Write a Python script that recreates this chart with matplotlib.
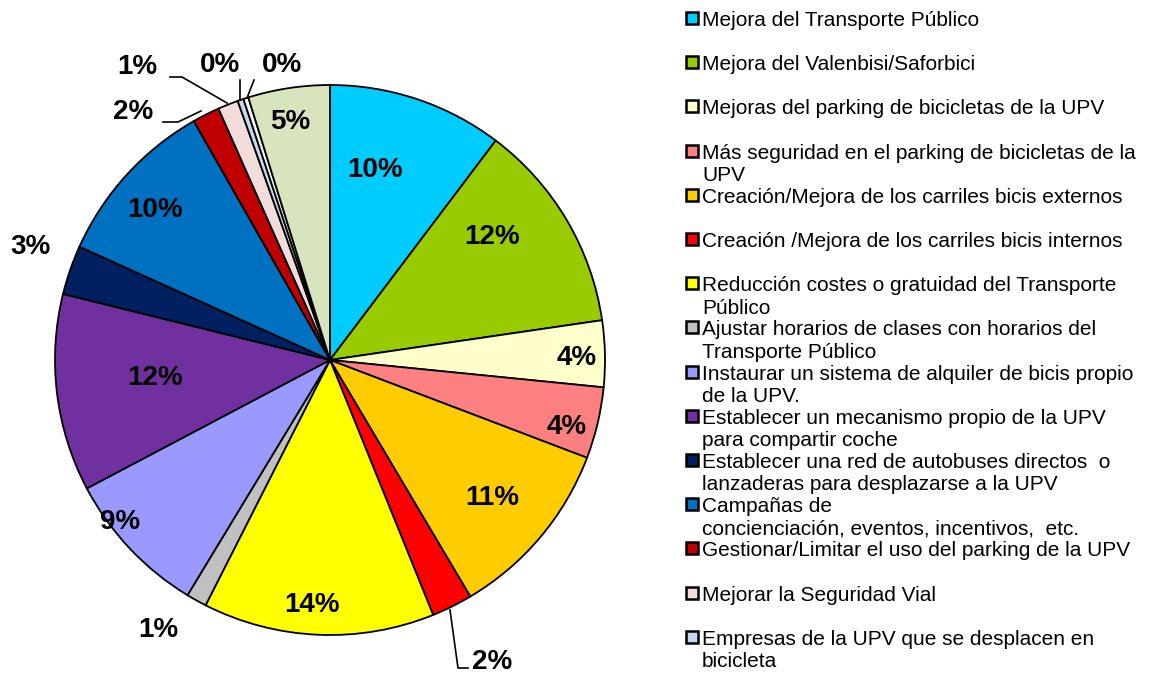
import matplotlib
matplotlib.use("Agg")
import matplotlib.pyplot as plt
from matplotlib.patches import Rectangle

plt.rcParams['font.family'] = ['Liberation Sans', 'DejaVu Sans']

categories = [
    "Mejora del Transporte Público",
    "Mejora del Valenbisi/Saforbici",
    "Mejoras del parking de bicicletas de la UPV",
    "Más seguridad en el parking de bicicletas de la\nUPV",
    "Creación/Mejora de los carriles bicis externos",
    "Creación /Mejora de los carriles bicis internos",
    "Reducción costes o gratuidad del Transporte\nPúblico",
    "Ajustar horarios de clases con horarios del\nTransporte Público",
    "Instaurar un sistema de alquiler de bicis propio\nde la UPV.",
    "Establecer un mecanismo propio de la UPV\npara compartir coche",
    "Establecer una red de autobuses directos  o\nlanzaderas para desplazarse a la UPV",
    "Campañas de\nconcienciación, eventos, incentivos,  etc.",
    "Gestionar/Limitar el uso del parking de la UPV",
    "Mejorar la Seguridad Vial",
    "Empresas de la UPV que se desplacen en\nbicicleta",
    "Otros 1",
    "Otros 2",
]
values = [10.3, 12.4, 3.9, 4.2, 10.7, 2.4, 13.6, 1.2, 8.6, 11.6, 2.9, 10.0,
          1.6, 1.2, 0.35, 0.3, 4.8]
colors = ['#00CCFF', '#99CC00', '#FFFFCC', '#FF8080', '#FFCC00', '#FF0000',
          '#FFFF00', '#C0C0C0', '#9999FF', '#7030A0', '#002060', '#0070C0',
          '#C00000', '#F2DCDB', '#C6D9F1', '#F4F4F4', '#D7E4BD']
n_legend = 15  # the original legend only lists the first 15 entries

W, H = 1153, 674
fig = plt.figure(figsize=(W / 100, H / 100), dpi=100)

cx, cy, R = 330, 360, 275
ax = fig.add_axes([(cx - R) / W, (H - cy - R) / H, 2 * R / W, 2 * R / H])
ax.pie(values, colors=colors, startangle=90, counterclock=False,
       wedgeprops=dict(edgecolor='black', linewidth=1.3), radius=1.0)
ax.set_xlim(-1, 1)
ax.set_ylim(-1, 1)
ax.set_aspect('equal')
ax.axis('off')


def px(x, y):
    # pixel position -> pie data coordinates
    return (x - cx) / R, (cy - y) / R


# label centres (pixels)
label_pos = [(375, 170), (492, 237), (577, 358), (567, 427), (492, 498),
             (492, 662), (312, 605), (158, 630), (120, 522), (155, 378),
             (30, 247), (155, 210), (133, 112), (137, 67), (220, 65),
             (282, 65), (290, 122)]
total = sum(values)
for v, (lx, ly) in zip(values, label_pos):
    x, y = px(lx, ly)
    ax.text(x, y, f"{round(v / total * 100)}%", ha='center', va='center',
            fontsize=20, fontweight='bold', clip_on=False)

# leader lines (pixels)
leaders = [
    [(450, 610), (458, 668), (468, 668)],
    [(163, 122), (178, 122), (201, 111)],
    [(170, 77), (182, 77), (227, 103)],
    [(240, 80), (240, 99)],
    [(254, 80), (247, 98)],
]
for pts in leaders:
    xs, ys = zip(*[px(a, b) for a, b in pts])
    ax.plot(xs, ys, color='black', linewidth=1.2, clip_on=False)

# legend drawn by hand, evenly spaced like the original
y0, step = 18, 44.2
for i in range(n_legend):
    yc = y0 + i * step
    fig.patches.append(Rectangle(((686) / W, (H - yc - 6) / H), 12 / W, 12 / H,
                                 transform=fig.transFigure, facecolor=colors[i],
                                 edgecolor='black', linewidth=1.8))
    fig.text(702 / W, (H - yc + 7) / H, categories[i], ha='left', va='top',
             fontsize=15, linespacing=1.22)

fig.savefig("out.png", dpi=100)
